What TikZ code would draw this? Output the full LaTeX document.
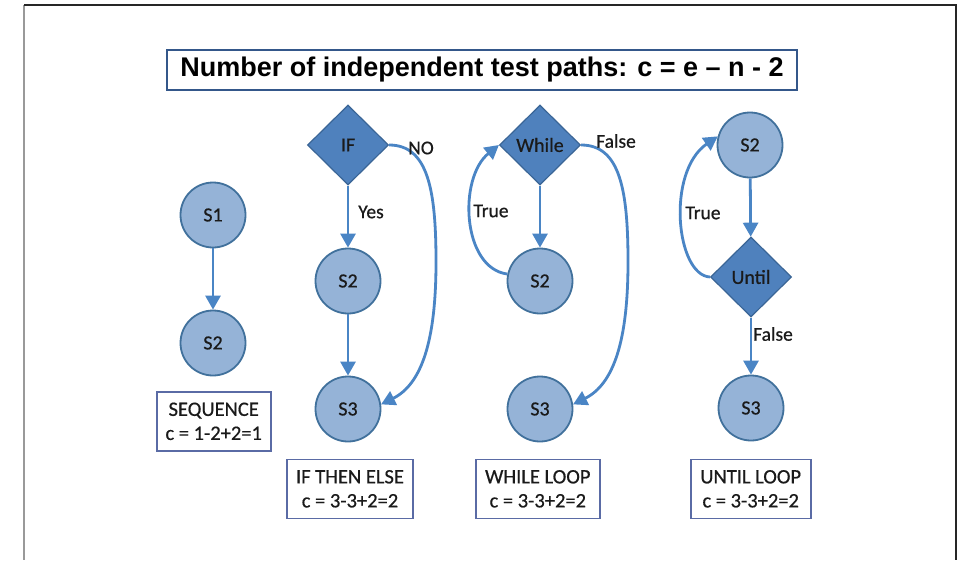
\documentclass[tikz,border=0pt]{standalone}
\usepackage{fontspec}
\setmainfont{Carlito}[FakeBold=0.6]
\newfontfamily\titlefont{Liberation Sans}
\usetikzlibrary{shapes.geometric,arrows.meta}

\definecolor{circfill}{HTML}{95B3D7}
\definecolor{circline}{HTML}{41719C}
\definecolor{diafill}{HTML}{4F81BD}
\definecolor{dialine}{HTML}{3A6596}
\definecolor{arrowc}{HTML}{4A85C5}
\definecolor{boxline}{HTML}{5A6BA5}
\definecolor{titleline}{HTML}{34578A}
\definecolor{inkc}{HTML}{1A1A1A}

\tikzset{
  state/.style={circle, draw=circline, fill=circfill, line width=1.8pt,
    minimum size=65pt, inner sep=0pt, text=inkc,
    font=\fontsize{20}{22}\selectfont},
  decision/.style={diamond, draw=dialine, fill=diafill, line width=1.2pt,
    minimum width=81pt, minimum height=80pt, inner sep=0pt, text=inkc,
    font=\fontsize{20}{22}\selectfont},
  flow/.style={draw=arrowc, line width=2.8pt,
    -{Triangle[width=15pt,length=14pt]}},
  lbl/.style={text=inkc, font=\fontsize{19.5}{22}\selectfont, inner sep=0pt},
  infobox/.style={draw=boxline, line width=1.6pt, fill=white, align=center,
    text=inkc, inner sep=0pt, font=\fontsize{20.5}{24}\selectfont},
  titlebox/.style={draw=titleline, line width=2pt, fill=white,
    inner sep=0pt, text=black, font=\titlefont\bfseries\fontsize{27}{30}\selectfont}
}

\begin{document}
\begin{tikzpicture}[x=1pt,y=-1pt]
  % page area and frame
  \useasboundingbox (0,0) rectangle (960,560);
  \fill[white] (0,0) rectangle (960,560);
  \draw[gray!80, line width=1.4pt] (24,5) -- (24,560);
  \draw[black!85, line width=1.4pt] (24,5) -- (956,5) -- (956,560);

  % heading
  \node[titlebox, minimum width=630pt, minimum height=40pt] (title) at (482,70)
    {Number of independent test paths: c = e – n - 2};

  % sequence
  \node[state] (s1) at (213,215) {S1};
  \node[state] (s2a) at (213,343) {S2};
  \draw[flow] (s1) -- (s2a);
  \node[infobox, minimum width=114pt, minimum height=59pt] (seqbox) at (213.7,421.3)
    {SEQUENCE\\c = 1-2+2=1};

  % if then else
  \node[decision] (if) at (348,145) {IF};
  \node[state] (s2b) at (348,281) {S2};
  \node[state] (s3b) at (348,409) {S3};
  \draw[flow] (if) -- (s2b);
  \draw[flow] (s2b) -- (s3b);
  \draw[flow] (if.east) .. controls (428,145) and (436,190) .. (436,262)
    .. controls (436,340) and (422,384) .. (s3b.8);
  \node[lbl] (yes) at (371,212) {Yes};
  \node[lbl] (no) at (421,148) {NO};
  \node[infobox, minimum width=126pt, minimum height=59pt] (ifbox) at (350,488.8)
    {IF THEN ELSE\\c = 3-3+2=2};

  % while loop
  \node[decision] (wh) at (540,145) {While};
  \node[state] (s2c) at (540,281) {S2};
  \node[state] (s3c) at (540,409) {S3};
  \draw[flow] (wh) -- (s2c);
  \draw[flow] (s2c.168) .. controls (462,268) and (458,178) .. (wh.west);
  \draw[flow] (wh.east) .. controls (620,145) and (628,190) .. (628,262)
    .. controls (628,340) and (614,384) .. (s3c.8);
  \node[lbl] (whtrue) at (491,211) {True};
  \node[lbl] (whfalse) at (616,141) {False};
  \node[infobox, minimum width=124pt, minimum height=59pt] (whbox) at (537.8,488.8)
    {WHILE LOOP\\c = 3-3+2=2};

  % until loop
  \node[state] (s2d) at (750,145) {S2};
  \node[decision] (un) at (751,277) {Until};
  \node[state] (s3d) at (751,408) {S3};
  \draw[flow] (s2d) -- (un);
  \draw[flow] (un) -- (s3d);
  \draw[flow] (un.west) .. controls (676,275) and (666,172) .. (s2d.165);
  \node[lbl] (untrue) at (703,213) {True};
  \node[lbl] (unfalse) at (773,334) {False};
  \node[infobox, minimum width=120pt, minimum height=59pt] (unbox) at (750.7,488.8)
    {UNTIL LOOP\\c = 3-3+2=2};
\end{tikzpicture}
\end{document}
